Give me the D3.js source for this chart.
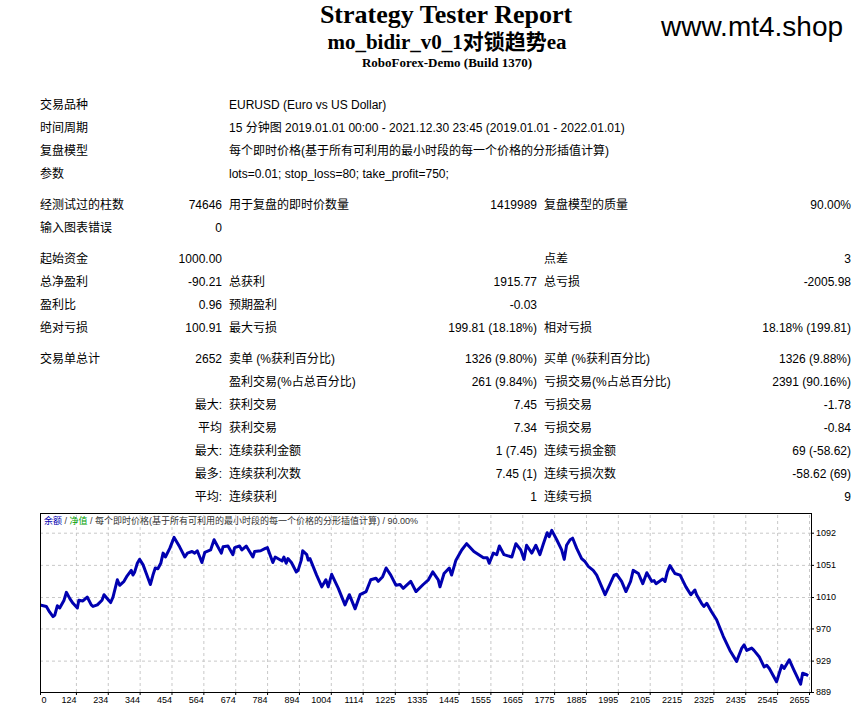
<!DOCTYPE html>
<html>
<head>
<meta charset="utf-8">
<script src="https://cdn.jsdelivr.net/npm/d3@7"></script>
<style>
body { margin: 0; background: #fff; }
text { font-family: "Liberation Sans", "Noto Sans CJK SC", sans-serif; fill: #000; }
</style>
</head>
<body>
<div id="chart-area"></div>
<script>
// header texts
var title = "Strategy Tester Report";
var eaName = "mo_bidir_v0_1对锁趋势ea";
var serverName = "RoboForex-Demo (Build 1370)";
var siteMark = "www.mt4.shop";

// report table: label, value, label, value, label, value
var reportRows = [
    ["交易品种", "", "EURUSD (Euro vs US Dollar)", "", "", ""],
    ["时间周期", "", "15 分钟图 2019.01.01 00:00 - 2021.12.30 23:45 (2019.01.01 - 2022.01.01)", "", "", ""],
    ["复盘模型", "", "每个即时价格(基于所有可利用的最小时段的每一个价格的分形插值计算)", "", "", ""],
    ["参数", "", "lots=0.01; stop_loss=80; take_profit=750;", "", "", ""],
    ["经测试过的柱数", "74646", "用于复盘的即时价数量", "1419989", "复盘模型的质量", "90.00%"],
    ["输入图表错误", "0", "", "", "", ""],
    ["起始资金", "1000.00", "", "", "点差", "3"],
    ["总净盈利", "-90.21", "总获利", "1915.77", "总亏损", "-2005.98"],
    ["盈利比", "0.96", "预期盈利", "-0.03", "", ""],
    ["绝对亏损", "100.91", "最大亏损", "199.81 (18.18%)", "相对亏损", "18.18% (199.81)"],
    ["交易单总计", "2652", "卖单 (%获利百分比)", "1326 (9.80%)", "买单 (%获利百分比)", "1326 (9.88%)"],
    ["", "", "盈利交易(%占总百分比)", "261 (9.84%)", "亏损交易(%占总百分比)", "2391 (90.16%)"],
    ["", "最大:", "获利交易", "7.45", "亏损交易", "-1.78"],
    ["", "平均", "获利交易", "7.34", "亏损交易", "-0.84"],
    ["", "最大:", "连续获利金额", "1 (7.45)", "连续亏损金额", "69 (-58.62)"],
    ["", "最多:", "连续获利次数", "7.45 (1)", "连续亏损次数", "-58.62 (69)"],
    ["", "平均:", "连续获利", "1", "连续亏损", "9"]
];
var rowGroups = [0, 0, 0, 0, 1, 1, 2, 2, 2, 2, 3, 3, 3, 3, 3, 3, 3];

// balance curve (trade number, balance)
var tradeNo = [0, 22, 33, 45, 51, 60, 68, 83, 91, 103, 114, 129, 134, 148, 163, 177, 183, 198, 214, 221,
    237, 244, 252, 267, 275, 290, 301, 315, 321, 327, 336, 344, 356, 367, 381, 390, 398, 407, 417, 425,
    433, 448, 463, 482, 500, 509, 525, 534, 543, 559, 569, 589, 601, 626, 632, 649, 666, 672, 689, 697,
    712, 735, 741, 762, 778, 785, 804, 812, 836, 842, 850, 856, 868, 885, 891, 902, 907, 921, 926, 932,
    955, 973, 987, 995, 1007, 1030, 1053, 1068, 1088, 1105, 1126, 1142, 1160, 1168, 1183, 1195, 1211, 1229, 1243, 1254,
    1280, 1298, 1323, 1341, 1356, 1375, 1381, 1395, 1413, 1421, 1436, 1456, 1473, 1498, 1531, 1544, 1551, 1565, 1577, 1586,
    1602, 1629, 1643, 1660, 1671, 1680, 1698, 1712, 1726, 1738, 1751, 1758, 1767, 1784, 1801, 1810, 1818, 1830, 1839, 1853,
    1870, 1882, 1893, 1910, 1922, 1951, 1966, 1982, 1991, 2008, 2023, 2039, 2048, 2066, 2081, 2095, 2112, 2120, 2127, 2150,
    2158, 2166, 2175, 2192, 2210, 2230, 2247, 2261, 2267, 2284, 2292, 2302, 2319, 2336, 2359, 2382, 2405, 2423, 2431, 2440,
    2457, 2465, 2483, 2500, 2509, 2518, 2543, 2561, 2569, 2587, 2603, 2626, 2633, 2647, 2652];
var balance = [1000, 998, 991, 985, 987, 999, 996, 1006, 1016, 1008, 1002, 996, 1006, 1005, 1010, 1000, 998, 1000, 1006, 1013,
    1006, 1003, 1010, 1032, 1025, 1030, 1037, 1044, 1038, 1042, 1053, 1058, 1051, 1040, 1026, 1038, 1047, 1046, 1053, 1066,
    1061, 1072, 1086, 1074, 1061, 1066, 1068, 1066, 1069, 1054, 1067, 1070, 1083, 1066, 1074, 1075, 1064, 1073, 1075, 1070,
    1075, 1061, 1068, 1069, 1072, 1073, 1054, 1061, 1056, 1061, 1053, 1059, 1054, 1042, 1044, 1057, 1069, 1064, 1057, 1059,
    1038, 1023, 1032, 1023, 1039, 1021, 1000, 1013, 995, 1013, 1017, 1032, 1034, 1030, 1036, 1047, 1038, 1025, 1026, 1021,
    1030, 1017, 1026, 1032, 1042, 1032, 1023, 1040, 1047, 1038, 1057, 1070, 1078, 1068, 1060, 1060, 1053, 1066, 1064, 1075,
    1064, 1061, 1078, 1070, 1058, 1076, 1066, 1076, 1064, 1078, 1092, 1087, 1095, 1083, 1070, 1058, 1076, 1083, 1085, 1072,
    1059, 1055, 1049, 1044, 1038, 1013, 1025, 1038, 1039, 1030, 1017, 1030, 1044, 1040, 1027, 1041, 1030, 1031, 1027, 1033,
    1030, 1042, 1050, 1040, 1038, 1023, 1013, 1019, 1013, 1002, 998, 1002, 991, 981, 960, 942, 928, 945, 949, 942,
    945, 942, 934, 921, 923, 919, 902, 923, 919, 930, 917, 899, 913, 911, 909.79];

var xTickValues = [0, 124, 234, 344, 454, 564, 674, 784, 894, 1004, 1114, 1225, 1335, 1445, 1555, 1665,
    1775, 1885, 1995, 2105, 2215, 2325, 2435, 2545, 2655];
var yTickValues = [889, 929, 970, 1010, 1051, 1092];

var legendParts = ["余额", " / ", "净值", " / 每个即时价格(基于所有可利用的最小时段的每一个价格的分形插值计算) / 90.00%"];
var legendColors = ["#0000b0", "#333", "#00a000", "#333"];

var svg = d3.select("#chart-area").append("svg")
    .attr("width", 864)
    .attr("height", 709);

// header
var serif = '"Liberation Serif", "Noto Sans CJK SC", serif';
svg.append("text")
    .attr("x", 446).attr("y", 23)
    .attr("text-anchor", "middle")
    .style("font-family", serif).style("font-weight", "bold").style("font-size", "26px")
    .text(title);
svg.append("text")
    .attr("x", 447).attr("y", 49)
    .attr("text-anchor", "middle")
    .style("font-family", serif).style("font-weight", "bold").style("font-size", "21px")
    .text(eaName);
svg.append("text")
    .attr("x", 447).attr("y", 67)
    .attr("text-anchor", "middle")
    .style("font-family", serif).style("font-weight", "bold").style("font-size", "13px")
    .text(serverName);
svg.append("text")
    .attr("x", 661).attr("y", 36)
    .style("font-size", "28px")
    .text(siteMark);

// report table
var colX = [40, 222, 229, 537, 544, 851];
var colAnchor = ["start", "end", "start", "end", "start", "end"];

var rows = svg.selectAll(".row")
    .data(reportRows)
    .enter()
    .append("g")
    .attr("class", "row")
    .attr("transform", function (d, i) {
        return `translate(0, ${105 + i * 23 + rowGroups[i] * 8})`;
    });

rows.selectAll("text")
    .data(function (d) {
        return d.map(function (v, j) { return { v: v, j: j }; }).filter(function (c) { return c.v !== ""; });
    })
    .enter()
    .append("text")
    .attr("x", function (c) { return colX[c.j]; })
    .attr("dy", "0.36em")
    .attr("text-anchor", function (c) { return colAnchor[c.j]; })
    .style("font-size", "12px")
    .text(function (c) { return c.v; });

// balance chart
var plot = { left: 40, top: 513, right: 811, bottom: 692 };

var x = d3.scaleLinear()
    .domain([0, 2655])
    .range([40, 809]);

var y = d3.scaleLinear()
    .domain([889, 1117.1])
    .range([plot.bottom, plot.top]);

// dashed grid
svg.append("g")
    .attr("class", "grid")
    .attr("transform", `translate(0, ${plot.bottom})`)
    .call(d3.axisBottom(x).tickValues(xTickValues.slice(1)).tickSize(-(plot.bottom - plot.top)).tickFormat(""))
    .call(function (g) { g.select(".domain").remove(); });

svg.append("g")
    .attr("class", "grid")
    .attr("transform", `translate(${plot.right}, 0)`)
    .call(d3.axisLeft(y).tickValues(yTickValues.slice(1)).tickSize(plot.right - plot.left).tickFormat(""))
    .call(function (g) { g.select(".domain").remove(); });

svg.selectAll(".grid line")
    .attr("stroke", "#c8c8c8")
    .attr("stroke-dasharray", "3,3");

// axes
var xAxisCall = d3.axisBottom(x)
    .tickValues(xTickValues)
    .tickSize(3)
    .tickPadding(2)
    .tickFormat(d3.format("d"));

svg.append("g")
    .attr("class", "x axis")
    .attr("transform", `translate(0, ${plot.bottom})`)
    .call(xAxisCall)
    .call(function (g) { g.select(".domain").remove(); })
    .selectAll("text")
    .attr("text-anchor", function (d) { return d === 0 ? "start" : "end"; })
    .attr("x", function (d) { return d === 0 ? 1 : 0; });

var yAxisCall = d3.axisRight(y)
    .tickValues(yTickValues)
    .tickSize(3)
    .tickPadding(2)
    .tickFormat(d3.format("d"));

svg.append("g")
    .attr("class", "y axis")
    .attr("transform", `translate(${plot.right}, 0)`)
    .call(yAxisCall)
    .call(function (g) { g.select(".domain").remove(); });

svg.selectAll(".axis text")
    .style("font-size", "9px")
    .attr("fill", "#000");
svg.selectAll(".axis line").attr("stroke", "#000");

// balance line
svg.append("clipPath")
    .attr("id", "plot-clip")
    .append("rect")
    .attr("x", plot.left).attr("y", plot.top)
    .attr("width", plot.right - plot.left).attr("height", plot.bottom - plot.top);

var points = tradeNo.map(function (t, i) { return { t: t, b: balance[i] }; });

var line = d3.line()
    .x(function (d) { return x(d.t); })
    .y(function (d) { return y(d.b); });

svg.append("path")
    .datum(points)
    .attr("clip-path", "url(#plot-clip)")
    .attr("fill", "none")
    .attr("stroke", "#0000b0")
    .attr("stroke-width", 3)
    .attr("stroke-linejoin", "round")
    .attr("d", line);

// frame
svg.append("rect")
    .attr("x", plot.left + 0.5).attr("y", plot.top + 0.5)
    .attr("width", plot.right - plot.left).attr("height", plot.bottom - plot.top)
    .attr("fill", "none")
    .attr("stroke", "#000")
    .attr("stroke-width", 1);

// legend line inside the chart
var legend = svg.append("text")
    .attr("x", 44).attr("y", 524)
    .style("font-size", "9px");
legend.selectAll("tspan")
    .data(legendParts)
    .enter()
    .append("tspan")
    .attr("fill", function (d, i) { return legendColors[i]; })
    .text(function (d) { return d; });
</script>
</body>
</html>
